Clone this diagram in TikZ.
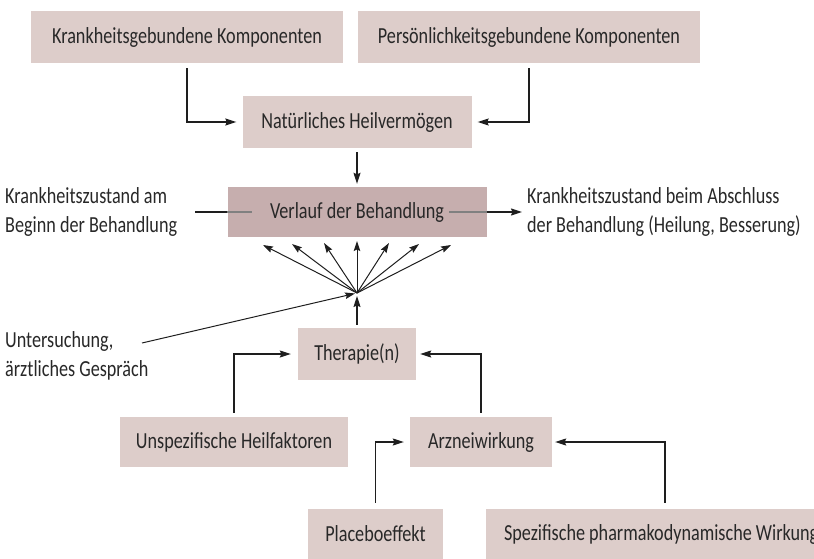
\documentclass[tikz,border=0pt]{standalone}
\usepackage{fontspec}
\setmainfont[FakeStretch=0.79]{Carlito}
\usetikzlibrary{arrows.meta, positioning}
\definecolor{boxlight}{RGB}{221,205,202}
\definecolor{boxdark}{RGB}{198,174,174}
\definecolor{txtgray}{RGB}{40,40,40}
\definecolor{conn}{RGB}{30,30,30}

\begin{document}
\begin{tikzpicture}[x=1pt, y=-1pt,
  font=\fontsize{23}{29}\selectfont, text=txtgray,
  box/.style={fill=boxlight, minimum height=52pt, inner sep=0pt},
  label/.style={align=left, anchor=west, inner sep=0pt},
  arr/.style={-{Stealth[length=11pt, width=7pt, inset=1.5pt]}, conn, line width=1.1pt},
  fan/.style={-{Stealth[length=10pt, width=6.5pt, inset=1.5pt]}, conn, line width=1pt}]
  \clip (0,0) rectangle (814,559);
  % --- boxes ---
  \node[box, minimum width=312pt] (krank)   at (187,37)   {Krankheitsgebundene Komponenten};
  \node[box, minimum width=342pt] (persoen) at (529,37)   {Persönlichkeitsgebundene Komponenten};
  \node[box, minimum width=229pt] (natuer)  at (357,122)  {Natürliches Heilvermögen};
  \node[box, fill=boxdark, minimum width=259pt, minimum height=50pt] (verlauf) at (357,212) {Verlauf der Behandlung};
  \node[box, minimum width=118pt] (therapie) at (357,354) {Therapie(n)};
  \node[box, minimum width=228pt, minimum height=50pt] (unspez)  at (234,442) {Unspezifische Heilfaktoren};
  \node[box, minimum width=142pt, minimum height=50pt] (arznei)  at (481,442) {Arzneiwirkung};
  \node[box, minimum width=135pt, minimum height=50pt] (placebo) at (375.5,534) {Placeboeffekt};
  \node[box, minimum width=358pt, minimum height=50pt] (spezif) at (665,534) {};
  \node[anchor=west, inner sep=0pt] (spezif-text) at ([xshift=18pt]spezif.west) {Spezifische pharmakodynamische Wirkung};
  % --- free texts ---
  \node[label] (beginn)    at (5,212)   {Krankheitszustand am\\Beginn der Behandlung};
  \node[label] (abschluss) at (527,212) {Krankheitszustand beim Abschluss\\der Behandlung (Heilung, Besserung)};
  \node[label] (unters)    at (5,356)   {Untersuchung,\\ärztliches Gespräch};
  % --- top part ---
  \draw[arr, shorten <=5pt, shorten >=6pt] (krank.south) |- (natuer.west);
  \draw[arr, shorten <=5pt, shorten >=6pt] (persoen.south) |- (natuer.east);
  \draw[arr, shorten <=4pt, shorten >=3pt] (natuer.south) -- (verlauf.north);
  \coordinate (beginn-end) at (195,212);
  \draw[conn, line width=1.4pt] (beginn-end) -- (verlauf.west);
  \draw[gray, line width=1.4pt] (verlauf.west) -- ++(25,0);
  \draw[gray, line width=1.4pt] (verlauf.east) -- ++(-38,0);
  \draw[arr, line width=1.4pt, shorten >=5pt] (verlauf.east) -- (abschluss.west);
  % --- fan into the course of treatment ---
  \coordinate (hub) at (357,293);
  \foreach \tx/\ty in {263/245, 292/244, 324/243, 357/241, 389/243, 419/244, 451/245}
    \draw[fan] (hub) -- (\tx,\ty);
  \coordinate (unters-end) at (142,343);
  \draw[fan, shorten >=2pt] (unters-end) -- (hub);
  \draw[arr, shorten <=3pt, shorten >=3pt] (therapie.north) -- (hub);
  % --- bottom part ---
  \draw[arr, shorten <=4pt, shorten >=7pt] (unspez.north) |- (therapie.west);
  \draw[arr, shorten <=4pt, shorten >=4pt] (arznei.north) |- (therapie.east);
  \draw[arr, shorten <=6pt, shorten >=6pt] (placebo.north) |- (arznei.west);
  \draw[arr, shorten <=6pt, shorten >=3pt] (spezif.north) |- (arznei.east);
\end{tikzpicture}
\end{document}
